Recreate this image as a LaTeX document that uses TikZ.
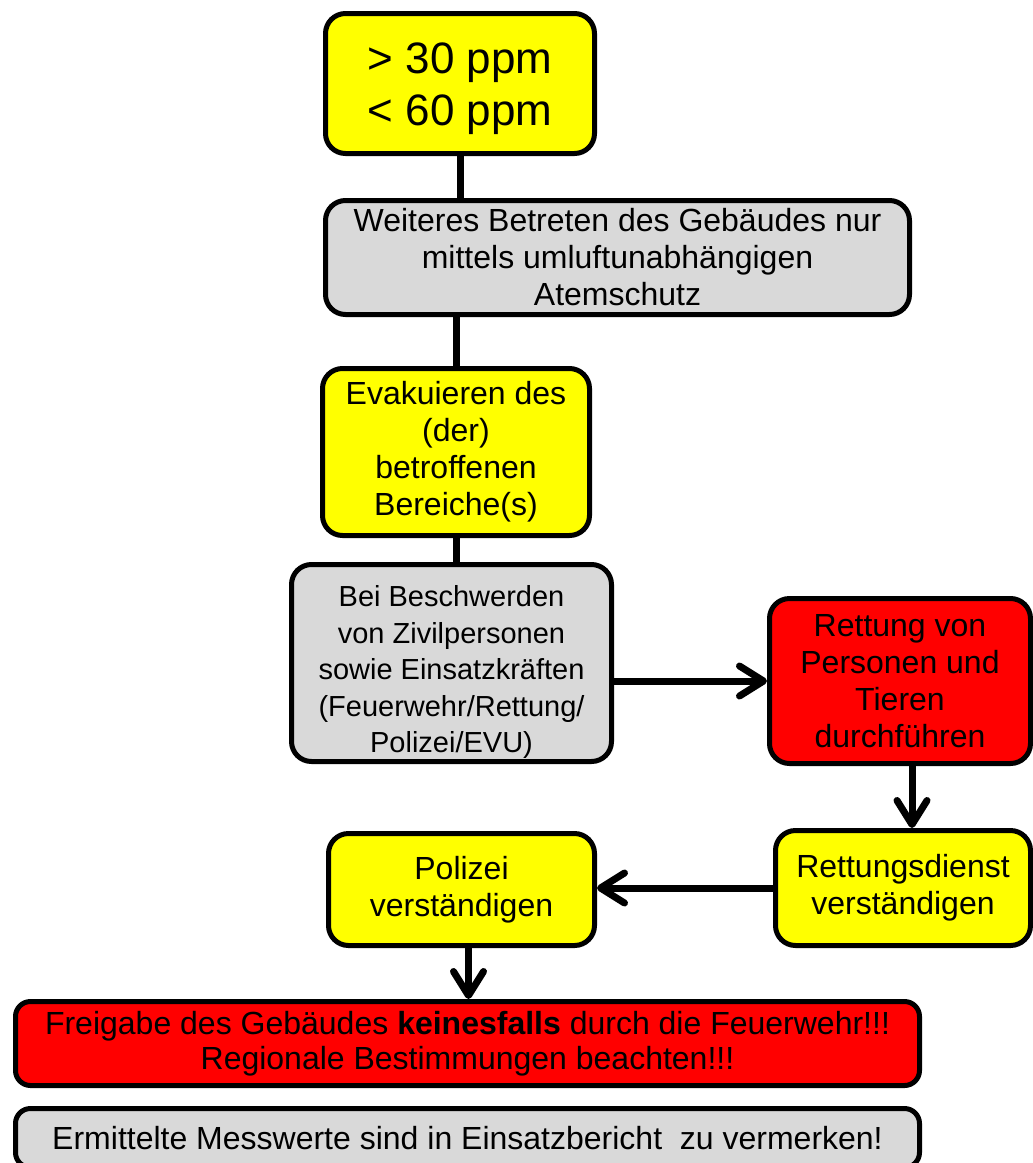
\documentclass[tikz,border=0pt]{standalone}
\usepackage{fontspec}
\setmainfont{Liberation Sans}
\usetikzlibrary{calc}
\usetikzlibrary{arrows.meta}

\definecolor{boxgray}{RGB}{217,217,217}
\definecolor{boxyellow}{RGB}{255,255,0}
\definecolor{boxred}{RGB}{255,0,0}

\begin{document}
\begin{tikzpicture} [x=1pt,y=-1pt,
  box/.style={draw=black,line width=5pt,rounded corners=20pt,align=center,inner sep=0pt,font=\fontsize{32}{37}\selectfont},
  yellowbox/.style={box,fill=boxyellow},
  graybox/.style={box,fill=boxgray},
  redbox/.style={box,fill=boxred},
  boxtext/.style={align=center,inner sep=0pt},
  conn/.style={black,line width=7pt},
  >={Straight Barb[length=24pt,width=30pt,round]}]

\useasboundingbox (0,0) rectangle (1033,1163);

\node[yellowbox,minimum width=269,minimum height=140] (ppm) at (460,83.5) {};
\node[boxtext,font=\fontsize{44}{52}\selectfont] (ppmtext) at (460,89) {> 30 ppm\\< 60 ppm};
\node[graybox,minimum width=584,minimum height=114] (atemschutz) at (617.5,257.5) {Weiteres Betreten des Gebäudes nur\\mittels umluftunabhängigen\\Atemschutz};
\node[yellowbox,minimum width=267,minimum height=167] (evakuieren) at (456,452) {Evakuieren des\\(der)\\betroffenen\\Bereiche(s)};
\node[graybox,minimum width=320,minimum height=197] (beschwerden) at (451.5,663) {};
\node[boxtext,font=\fontsize{29}{36.5}\selectfont] (beschwerdentext) at (451.5,672) {Bei Beschwerden\\von Zivilpersonen\\sowie Einsatzkräften\\(Feuerwehr/Rettung/\\Polizei/EVU)};
\node[redbox,minimum width=261,minimum height=165] (rettung) at (900,681) {Rettung von\\Personen und\\Tieren\\durchführen};
\node[yellowbox,minimum width=255,minimum height=115] (rettungsdienst) at (903,888) {Rettungsdienst\\verständigen};
\node[yellowbox,minimum width=266,minimum height=112] (polizei) at (461.5,889.5) {Polizei\\verständigen};
\node[redbox,minimum width=904,minimum height=84,rounded corners=15pt,font=\fontsize{32}{35}\selectfont] (freigabe) at (467.5,1043.5) {Freigabe des Gebäudes \textbf{keinesfalls} durch die Feuerwehr!!!\\Regionale Bestimmungen beachten!!!};
\node[graybox,minimum width=904,minimum height=59,rounded corners=15pt] (messwerte) at (467.5,1138) {Ermittelte Messwerte sind in Einsatzbericht~ zu vermerken!};

\draw[conn] (ppm.south) -- (ppm.south |- atemschutz.north);
\draw[conn] (evakuieren.north |- atemschutz.south) -- (evakuieren.north);
\draw[conn] (evakuieren.south) -- (evakuieren.south |- beschwerden.north);
\draw[conn,->] (beschwerden.east |- rettung.west) -- (rettung.west);
\draw[conn,->] ([xshift=12]rettung.south) -- ([xshift=12]rettung.south |- rettungsdienst.north);
\draw[conn,->] (rettungsdienst.west) -- (rettungsdienst.west -| polizei.east);
\draw[conn,->] ([xshift=7]polizei.south) -- ([xshift=7]polizei.south |- freigabe.north);

\end{tikzpicture}
\end{document}
